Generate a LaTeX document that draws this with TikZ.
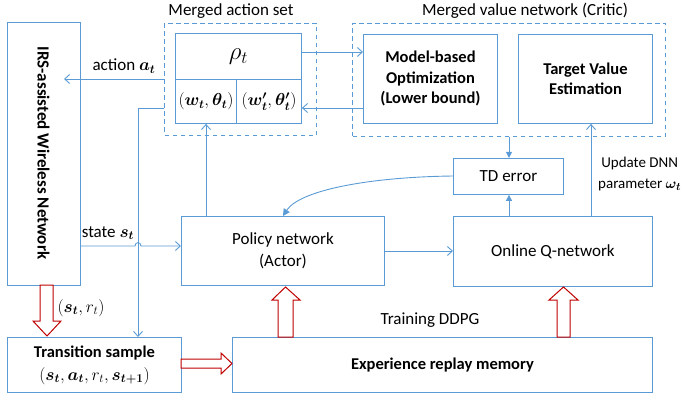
\documentclass[tikz,border=0pt]{standalone}
\usepackage{fontspec}
\setmainfont{Carlito}
\usepackage{amsmath,bm}
\usetikzlibrary{arrows.meta}
\definecolor{lblue}{RGB}{91,155,213}
\definecolor{dred}{RGB}{192,0,0}
\begin{document}
\begin{tikzpicture}[x=1pt,y=-1pt,
  box/.style={draw=lblue, line width=0.9pt, inner sep=0pt, anchor=north west, align=center, font=\fontsize{17}{21.5}\selectfont},
  bbox/.style={box, font=\fontsize{16.5}{20.5}\selectfont\bfseries},
  dbox/.style={draw=lblue, line width=1pt, dash pattern=on 4.5pt off 3.5pt, inner sep=0pt, anchor=north west},
  conn/.style={draw=lblue, line width=0.9pt},
  oarr/.style={conn, -{Straight Barb[length=5pt,width=9pt]}},
  farr/.style={conn, -{Triangle[length=6pt,width=6pt]}},
  lbl/.style={inner sep=0pt, font=\fontsize{17}{21}\selectfont},
  redblock/.style={draw=dred, line width=1pt, fill=white}
]
\useasboundingbox (0,0) rectangle (683,401);

% dashed groups
\node[dbox, minimum width=152, minimum height=112] (mas) at (164,23) {};
\node[dbox, minimum width=313, minimum height=113] (mvn) at (352,23) {};
\node[lbl] (mast) at (231,11) {Merged action set};
\node[lbl] (mvnt) at (525,11) {Merged value network (Critic)};

% main boxes
\node[bbox, minimum width=73, minimum height=263] (irs) at (7,22) {};
\node[rotate=-90, font=\fontsize{17}{20}\selectfont\bfseries, inner sep=0pt] (irst) at (43.5,153) {IRS-assisted Wireless Network};

\node[box, minimum width=126, minimum height=46] (rho) at (175,33) {\fontsize{25}{28}\selectfont$\rho_t$};
\node[box, minimum width=61, minimum height=44, font=\fontsize{18}{21}\selectfont] (w1) at (175,79) {$(\bm{w_t},\bm{\theta_t})$};
\node[box, minimum width=65, minimum height=44, font=\fontsize{18}{21}\selectfont] (w2) at (236,79) {$(\bm{w'_t},\bm{\theta'_t})$};

\node[bbox, minimum width=134, minimum height=89] (mbo) at (363,34) {Model-based\\Optimization\\(Lower bound)};
\node[bbox, minimum width=134, minimum height=89] (tve) at (518,34) {Target Value\\Estimation};

\node[box, minimum width=110, minimum height=36] (td) at (453,158) {TD error};
\node[box, minimum width=203, minimum height=69] (pol) at (181,216) {Policy network\\(Actor)};
\node[box, minimum width=199, minimum height=70] (qn) at (453,216) {Online Q-network};
\node[bbox, minimum width=174, minimum height=55, font=\fontsize{16.5}{23}\selectfont\bfseries] (trs) at (7,337) {Transition sample\\$(\bm{s_t},\bm{a_t},r_t,\bm{s_{t+1}})$};
\node[bbox, minimum width=420, minimum height=55] (exm) at (232,337) {Experience replay memory};

% labels
\node[lbl] (actl) at (124,66) {action $\bm{a_t}$};
\node[lbl] (stl) at (108,233) {state $\bm{s_t}$};
\node[lbl] (srl) at (81,308) {$(\bm{s_t},r_t)$};
\node[lbl] (trl) at (430,320) {Training DDPG};
\node[lbl, align=center, anchor=west, font=\fontsize{15}{21}\selectfont] (upd) at (598,174) {Update DNN\\parameter $\bm{\omega_t}$};

% connectors
\coordinate (aS) at (mas.west |- 0,79);
\coordinate (aE) at (64,79);
\draw[oarr] (aS) -- (aE);
\draw[oarr] (rho.east |- 0,52) -- (mbo.west |- 0,52);
\draw[oarr] (mbo.west |- 0,108) -- (w2.east |- 0,108);
\coordinate (bS) at (mas.west |- 0,108);
\draw[oarr] (bS) -- (138,108) -- (138,337);
\draw[oarr] (irs.east |- 0,246) -- (135,246) .. controls (135,241.5) and (141,241.5) .. (141,246) -- (pol.west |- 0,246);
\draw[oarr] (pol.north -| 206,0) -- (w1.south -| 206,0);
\draw[oarr] (pol.east |- 0,251) -- (qn.west |- 0,251);
\draw[farr] (mvn.south -| 509,0) -- (td.north -| 509,0);
\draw[farr] (qn.north -| 509,0) -- (td.south -| 509,0);
\draw[oarr] (qn.north -| 591,0) -- (tve.south -| 591,0);
\draw[conn, -{Triangle[length=7pt,width=7pt]}] (td.west |- 0,176) .. controls (370,177) and (300,190) .. (pol.north);

% red block arrows
\draw[redblock] (40,285) -- (53,285) -- (53,321) -- (61,321) -- (47,336) -- (33,321) -- (40,321) -- cycle;
\draw[redblock] (181,359) -- (221,359) -- (221,353) -- (232,363.5) -- (221,374) -- (221,368) -- (181,368) -- cycle;
\draw[redblock] (278,337) -- (278,300) -- (272,300) -- (285.5,287) -- (300,300) -- (293,300) -- (293,337) -- cycle;
\draw[redblock] (557,337) -- (557,300) -- (549,300) -- (563.5,287) -- (578,300) -- (570,300) -- (570,337) -- cycle;
\end{tikzpicture}
\end{document}
